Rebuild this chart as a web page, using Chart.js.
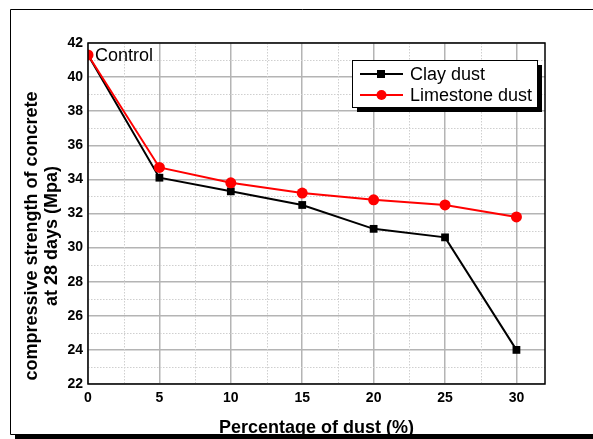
<!DOCTYPE html>
<html>
<head>
<meta charset="utf-8">
<script src="https://cdn.jsdelivr.net/npm/chart.js@4"></script>
<style>
  body { margin: 0; background: #fff; }
  #wrap { width: 593px; height: 439px; }
</style>
</head>
<body>
<div id="wrap"><canvas id="chart" width="593" height="439"></canvas></div>
<script>
// data
const dustPct = [0, 5, 10, 15, 20, 25, 30];
const clayDust = [41.3, 34.1, 33.3, 32.5, 31.1, 30.6, 24.0];
const limestoneDust = [41.3, 34.7, 33.8, 33.2, 32.8, 32.5, 31.8];
const seriesNames = ['Clay dust', 'Limestone dust'];
const yTitle = ['compressive strength of concrete', 'at 28 days (Mpa)'];
const xTitle = 'Percentage of dust (%)';
const controlLabel = 'Control';

const FONT = '"Liberation Sans", Arial, sans-serif';

const toPoints = vals => vals.map((v, i) => ({ x: dustPct[i], y: v }));

// frame, minor grid, titles, legend box
const decorations = {
  id: 'decorations',
  beforeDatasetsDraw(chart) {
    const { ctx, chartArea: a, scales: { x, y } } = chart;
    ctx.save();
    ctx.strokeStyle = '#cfcfcf';
    ctx.lineWidth = 1;
    ctx.setLineDash([1.5, 1.5]);
    for (let v = 23; v < 42; v += 2) {
      const py = Math.round(y.getPixelForValue(v)) + 0.5;
      ctx.beginPath(); ctx.moveTo(a.left, py); ctx.lineTo(a.right, py); ctx.stroke();
    }
    for (let v = 2.5; v < 32; v += 5) {
      const px = Math.round(x.getPixelForValue(v)) + 0.5;
      ctx.beginPath(); ctx.moveTo(px, a.top); ctx.lineTo(px, a.bottom); ctx.stroke();
    }
    ctx.restore();
  },
  afterDraw(chart) {
    const { ctx, chartArea: a } = chart;
    ctx.save();
    // outer frame
    ctx.strokeStyle = '#000';
    ctx.lineWidth = 1;
    ctx.beginPath();
    ctx.moveTo(600, 9.5); ctx.lineTo(10.5, 9.5); ctx.lineTo(10.5, 434.5); ctx.lineTo(600, 434.5);
    ctx.stroke();
    ctx.fillStyle = '#000';
    ctx.fillRect(15, 435, 580, 4);

    // plot border
    ctx.lineWidth = 1.5;
    ctx.strokeRect(a.left, a.top, a.right - a.left, a.bottom - a.top);

    // axis titles
    ctx.font = 'bold 18px ' + FONT;
    ctx.textAlign = 'center';
    ctx.textBaseline = 'alphabetic';
    ctx.fillText(xTitle, (a.left + a.right) / 2, 433);
    ctx.textBaseline = 'middle';
    ctx.save();
    ctx.translate(32, 236);
    ctx.rotate(-Math.PI / 2);
    ctx.fillText(yTitle[0], 0, 0);
    ctx.fillText(yTitle[1], 0, 20);
    ctx.restore();

    // control label
    ctx.font = '18px ' + FONT;
    ctx.textAlign = 'left';
    ctx.textBaseline = 'alphabetic';
    ctx.fillText(controlLabel, 95, 61);

    // legend box
    const lx = 352, ly = 60, lw = 185, lh = 47;
    ctx.fillRect(lx + 5, ly + 5, lw, lh);
    ctx.fillStyle = '#fff';
    ctx.fillRect(lx, ly, lw, lh);
    ctx.lineWidth = 1;
    ctx.strokeStyle = '#000';
    ctx.strokeRect(lx + 0.5, ly + 0.5, lw, lh);
    ctx.font = '18px ' + FONT;
    ctx.textBaseline = 'alphabetic';
    chart.data.datasets.forEach((ds, i) => {
      const ry = ly + 14 + i * 21;
      ctx.strokeStyle = ds.borderColor;
      ctx.fillStyle = ds.borderColor;
      ctx.lineWidth = 2;
      ctx.beginPath(); ctx.moveTo(lx + 8, ry); ctx.lineTo(lx + 51, ry); ctx.stroke();
      if (ds.pointStyle === 'rect') {
        ctx.fillRect(lx + 25, ry - 4, 8, 8);
      } else {
        ctx.beginPath(); ctx.arc(lx + 29.5, ry, 5, 0, Math.PI * 2); ctx.fill();
      }
      ctx.fillStyle = '#000';
      ctx.fillText(ds.label, lx + 58, ry + 6);
    });
    ctx.restore();
  }
};

new Chart(document.getElementById('chart'), {
  type: 'line',
  data: {
    datasets: [
      {
        label: seriesNames[0],
        data: toPoints(clayDust),
        borderColor: '#000',
        backgroundColor: '#000',
        borderWidth: 2,
        pointStyle: 'rect',
        pointRadius: 5.5,
        pointBorderWidth: 0,
        order: 1
      },
      {
        label: seriesNames[1],
        data: toPoints(limestoneDust),
        borderColor: '#ff0000',
        backgroundColor: '#ff0000',
        borderWidth: 2,
        pointStyle: 'circle',
        pointRadius: 5.5,
        pointBorderWidth: 0,
        order: 0
      }
    ]
  },
  options: {
    responsive: false,
    animation: false,
    layout: { padding: { left: 10, top: 43, right: 48, bottom: 0 } },
    plugins: { legend: { display: false }, tooltip: { enabled: false } },
    scales: {
      x: {
        type: 'linear',
        min: 0,
        max: 32,
        afterBuildTicks: s => { s.ticks = s.ticks.filter(t => t.value % 5 === 0); },
        afterFit: s => { s.height = 55; },
        grid: { color: '#b4b4b4', lineWidth: 1.5, drawTicks: false },
        border: { display: false },
        ticks: {
          stepSize: 5,
          padding: 6,
          color: '#000',
          font: { family: FONT, size: 14, weight: 'bold' }
        }
      },
      y: {
        min: 22,
        max: 42,
        afterFit: s => { s.width = 78; },
        grid: { color: '#b4b4b4', lineWidth: 1.5, drawTicks: false },
        border: { display: false },
        ticks: {
          stepSize: 2,
          padding: 5,
          color: '#000',
          font: { family: FONT, size: 14, weight: 'bold' }
        }
      }
    }
  },
  plugins: [decorations]
});
</script>
</body>
</html>
